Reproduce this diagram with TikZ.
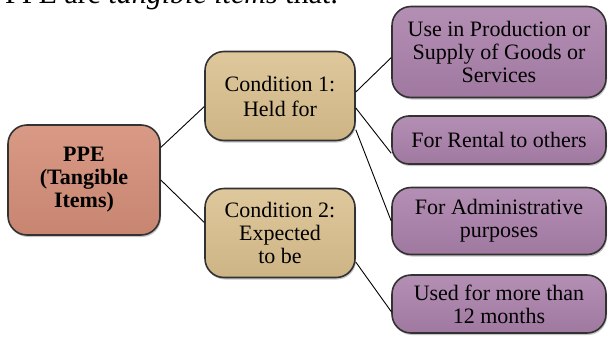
\documentclass[tikz,border=0pt]{standalone}
\usepackage{fontspec}
\setmainfont{Liberation Serif}
\usetikzlibrary{shadows}
\definecolor{salmon}{RGB}{212,142,120}
\definecolor{tan}{RGB}{218,192,142}
\definecolor{mauve}{RGB}{170,128,170}
\definecolor{rim}{RGB}{50,50,50}
\begin{document}
\begin{tikzpicture}[x=1pt, y=-1pt,
		box/.style={draw=rim, line width=1.6pt, rounded corners=19pt, inner sep=0pt, align=center,
			font=\fontsize{22}{23}\selectfont,
			drop shadow={shadow xshift=1pt, shadow yshift=-2pt, opacity=0.45}},
		ppebox/.style={box, top color=salmon!90!white, bottom color=salmon!94!black, minimum width=152pt, minimum height=110pt},
		condbox/.style={box, top color=tan!88!white, bottom color=tan!94!black, minimum width=150pt, minimum height=89pt},
		usebox/.style={box, top color=mauve!88!white, bottom color=mauve!94!black, minimum width=214pt}]
		\useasboundingbox (0,0) rectangle (609,340);
		\node (title) [anchor=base west, inner sep=0pt, font=\fontsize{30}{30}\selectfont] at (5,4) {PPE are \textit{tangible items} that:};
		\node (ppe) [ppebox] at (84,180) {\bfseries PPE\\\bfseries (Tangible\\\bfseries Items)};
		\node (cond1) [condbox] at (280,96) {Condition 1:\\[2pt]Held for};
		\node (cond2) [condbox] at (280,233) {Condition 2:\\Expected\\to be};
		\node (prod) [usebox, minimum height=91pt] at (499,52) {Use in Production or\\Supply of Goods or\\Services};
		\node (rental) [usebox, minimum height=48pt, rounded corners=17pt] at (499,140) {For Rental to others};
		\node (admin) [usebox, minimum height=67pt] at (499,221) {For Administrative\\purposes};
		\node (months) [usebox, minimum height=58pt] at (499,304) {Used for more than\\12 months};
		
		\draw[line width=0.9pt] (ppe.23) -- (cond1.188);
		\draw[line width=0.9pt] (ppe.east) -- (cond2.172);
		\draw[line width=0.9pt] (cond1.3) -- (prod.183);
		\draw[line width=0.9pt] (cond1.-9) -- (rental.187);
		\draw[line width=0.9pt] (cond1.-24) -- (admin.west);
		\draw[line width=0.9pt] (cond2.-21) -- (months.184);
	\end{tikzpicture}
\end{document}
